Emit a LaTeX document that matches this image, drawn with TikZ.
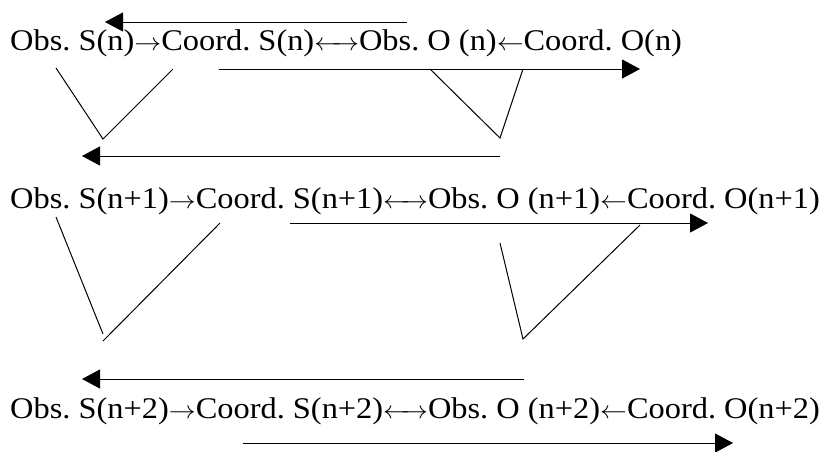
\documentclass[tikz,border=0pt]{standalone}
\usepackage{fontspec}
\setmainfont{Liberation Serif}
\usetikzlibrary{arrows.meta}
\newcommand{\ra}{$\rightarrow$}
\newcommand{\la}{$\leftarrow$}
\newcommand{\lra}{$\leftarrow\!\!\rightarrow$}
\tikzset{
  rowtext/.style={anchor=base west, inner sep=0pt, xscale=1.08, transform shape,
    font=\fontsize{30}{35}\selectfont\frenchspacing},
  flow/.style={line width=1pt, -{Triangle[length=18pt,width=19pt]}},
  vline/.style={line width=1pt},
}
\begin{document}
\begin{tikzpicture}[x=1pt,y=-1pt]
\useasboundingbox (0,0) rectangle (821,451);
% text rows
\node[rowtext] (r1) at (10,50) {Obs. S(n)\ra Coord. S(n)\lra Obs. O (n)\la Coord. O(n)};
\node[rowtext] (r2) at (10,208) {Obs. S(n+1)\ra Coord. S(n+1)\lra Obs. O (n+1)\la Coord. O(n+1)};
\node[rowtext] (r3) at (10,418) {Obs. S(n+2)\ra Coord. S(n+2)\lra Obs. O (n+2)\la Coord. O(n+2)};
% arrow endpoints
\coordinate (a1s) at (407,22);  \coordinate (a1e) at (105,22);
\coordinate (b1s) at (219,69);  \coordinate (b1e) at (640,69);
\coordinate (a2s) at (500,156); \coordinate (a2e) at (82,156);
\coordinate (b2s) at (290,223); \coordinate (b2e) at (708,223);
\coordinate (a3s) at (524,379); \coordinate (a3e) at (82,379);
\coordinate (b3s) at (243,443); \coordinate (b3e) at (733,443);
% V shapes endpoints
\coordinate (v1a) at (56,68);  \coordinate (v1b) at (103,139); \coordinate (v1c) at (173,69);
\coordinate (w1a) at (430,69); \coordinate (w1b) at (500,138); \coordinate (w1c) at (523,69);
\coordinate (v2a) at (56,217); \coordinate (v2b) at (103,334); \coordinate (v2c) at (103,341); \coordinate (v2d) at (220,223);
\coordinate (w2a) at (500,243); \coordinate (w2b) at (523,339); \coordinate (w2c) at (640,225);
% arrows
\draw[flow] (a1s) -- (a1e);
\draw[flow] (b1s) -- (b1e);
\draw[flow] (a2s) -- (a2e);
\draw[flow] (b2s) -- (b2e);
\draw[flow] (a3s) -- (a3e);
\draw[flow] (b3s) -- (b3e);
% V lines
\draw[vline] (v1a) -- (v1b) -- (v1c);
\draw[vline] (w1a) -- (w1b) -- (w1c);
\draw[vline] (v2a) -- (v2b);
\draw[vline] (v2c) -- (v2d);
\draw[vline] (w2a) -- (w2b) -- (w2c);
\end{tikzpicture}
\end{document}
